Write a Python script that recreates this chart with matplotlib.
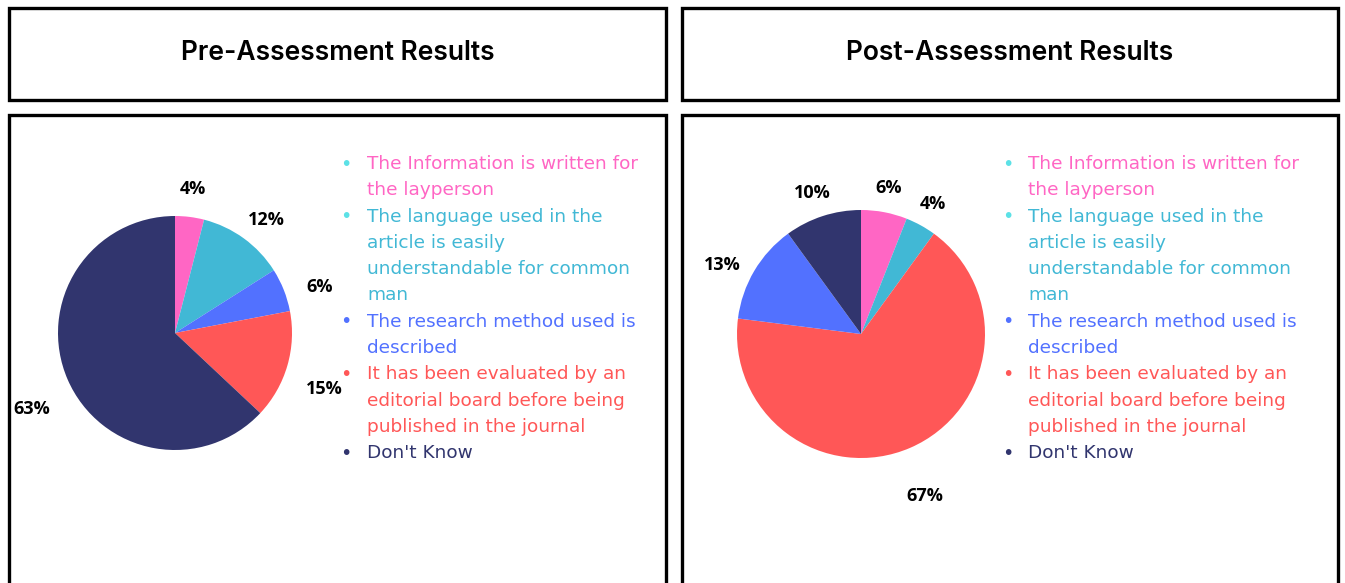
import numpy as np
import matplotlib.pyplot as plt
from matplotlib.patches import Rectangle

## data (legend order)
categories = ["The Information is written for\nthe layperson",
              "The language used in the\narticle is easily\nunderstandable for common\nman",
              "The research method used is\ndescribed",
              "It has been evaluated by an\neditorial board before being\npublished in the journal",
              "Don't Know"]
pre_values = [4, 12, 6, 15, 63]
post_values = [6, 4, 13, 67, 10]
titles = ["Pre-Assessment Results", "Post-Assessment Results"]

# order in which slices go round the pie (clockwise from 12 o'clock)
pre_order = [0, 1, 2, 3, 4]
post_order = [0, 1, 3, 2, 4]

slice_colors = ["#ff66c4", "#41b8d5", "#5271ff", "#ff5757", "#31356e"]
text_colors = ["#ff66c4", "#41b8d5", "#5271ff", "#ff5757", "#31356e"]
dot_colors = ["#5ce1e6", "#5ce1e6", "#5271ff", "#ff5757", "#31356e"]

W, H = 1345, 583
fig = plt.figure(figsize=(W / 100, H / 100), dpi=100)

def px(x, y):
    # pixel from top-left -> figure fraction
    return x / W, 1 - y / H

def box(x0, y0, x1, y1):
    fig.patches.append(Rectangle((x0 / W, 1 - y1 / H), (x1 - x0) / W, (y1 - y0) / H,
                                 transform=fig.transFigure, fill=False,
                                 edgecolor="black", linewidth=2.4))

# boxes
box(9, 8, 666, 100)
box(682, 8, 1338, 100)
box(9, 115, 666, 600)
box(682, 115, 1338, 600)

fig.text(*px(338, 53), titles[0], ha="center", va="center", fontsize=19,
         family="Inter", fontweight="semibold")
fig.text(*px(1010, 53), titles[1], ha="center", va="center", fontsize=19,
         family="Inter", fontweight="semibold")

def pie_panel(cx, cy, r, values, order, dists, shifts):
    s = 2.5 * r
    ax = fig.add_axes([(cx - s / 2) / W, (H - cy - s / 2) / H, s / W, s / H])
    vals = [values[i] for i in order]
    cols = [slice_colors[i] for i in order]
    wedges, texts = ax.pie(vals, colors=cols, startangle=90, counterclock=False)
    for w, v, d, sh in zip(wedges, vals, dists, shifts):
        ang = np.deg2rad((w.theta1 + w.theta2) / 2 + sh)
        ax.text(d * np.cos(ang), d * np.sin(ang), f"{v}%", ha="center", va="center",
                fontsize=13, fontweight="bold", family="Open Sans")
    ax.set_xlim(-1.25, 1.25)
    ax.set_ylim(-1.25, 1.25)
    return ax

pie_panel(175, 333, 117, pre_values, pre_order,
          [1.24, 1.24, 1.3, 1.36, 1.39], [0, -3, -4, -4.5, 4.5])
pie_panel(861, 334, 124, post_values, post_order,
          [1.2, 1.2, 1.4, 1.25, 1.2], [0, 0, -2, 4, 1])

def legend(xdot, xtext, ytop):
    line = 0
    for cat, tc, dc in zip(categories, text_colors, dot_colors):
        y = ytop + 26.3 * line
        fig.text(*px(xdot, y), "\u2022", color=dc, fontsize=14, ha="center", va="center")
        for part in cat.split("\n"):
            fig.text(*px(xtext, ytop + 26.3 * line), part, color=tc, fontsize=13.3,
                     family="DejaVu Sans", ha="left", va="center")
            line += 1

legend(346, 367, 164)
legend(1008, 1028, 164)

fig.savefig("out.png", dpi=100)
